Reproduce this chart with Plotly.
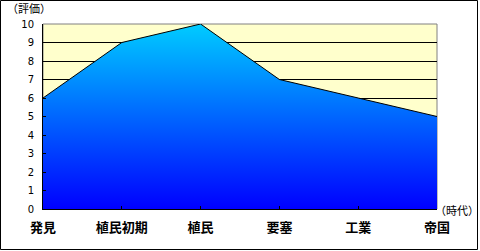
import plotly.graph_objects as go

categories = ["発見", "植民初期", "植民", "要塞", "工業", "帝国"]
values = [6, 9, 10, 7, 6, 5]
y_ticks = list(range(0, 11))

W, H = 480, 251
L, R, T, B = 43, 43, 24, 42
pw, ph = W - L - R, H - T - B

def px2paper(x, y):
    return (x - L) / pw, (H - B - y) / ph

fig = go.Figure()
fig.add_trace(go.Scatter(
    x=categories, y=values, mode="lines",
    line=dict(color="#000000", width=1),
    fill="tozeroy",
    fillgradient=dict(type="vertical", start=0, stop=10,
                      colorscale=[[0, "#0000FF"], [1, "#00CCFF"]]),
    hoverinfo="skip", showlegend=False,
))

x0, y0 = px2paper(0.5, 0.5)
x1, y1 = px2paper(477.5, 249.5)
fig.add_shape(type="rect", xref="paper", yref="paper", x0=x0, y0=y1, x1=x1, y1=y0,
              line=dict(color="#000000", width=1), layer="above")
fig.add_shape(type="rect", xref="paper", yref="paper", x0=0, y0=0, x1=1, y1=1,
              line=dict(color="#808080", width=1), layer="below")

fnt = "Noto Sans CJK JP"
ax, ay = px2paper(29, 8)
fig.add_annotation(text="（評価）", xref="paper", yref="paper", x=ax, y=ay,
                   showarrow=False, font=dict(family=fnt, size=11, color="#000"),
                   xanchor="center", yanchor="middle")
bx, by = px2paper(457, 210)
fig.add_annotation(text="（時代）", xref="paper", yref="paper", x=bx, y=by,
                   showarrow=False, font=dict(family=fnt, size=11, color="#000"),
                   xanchor="center", yanchor="middle")

fig.update_layout(
    width=W, height=H,
    margin=dict(l=L, r=R, t=T, b=B),
    paper_bgcolor="#FFFFFF", plot_bgcolor="#FFFFCC",
    xaxis=dict(type="category", range=[0, 5], showgrid=False,
               showline=True, linecolor="#000000", linewidth=1,
               ticks="inside", ticklen=3, tickcolor="#000000",
               tickfont=dict(family=fnt, size=13, color="#000000", weight="bold"),
               ticklabelstandoff=6, fixedrange=True),
    yaxis=dict(range=[0, 10], tickvals=y_ticks, showgrid=True,
               gridcolor="#000000", gridwidth=1,
               showline=True, linecolor="#000000", linewidth=1,
               ticks="inside", ticklen=3, tickcolor="#000000",
               tickfont=dict(family="DejaVu Sans", size=10, color="#000000"),
               ticklabelstandoff=6, zeroline=False, fixedrange=True),
)

fig.write_html("out.html", config={"displayModeBar": False})
